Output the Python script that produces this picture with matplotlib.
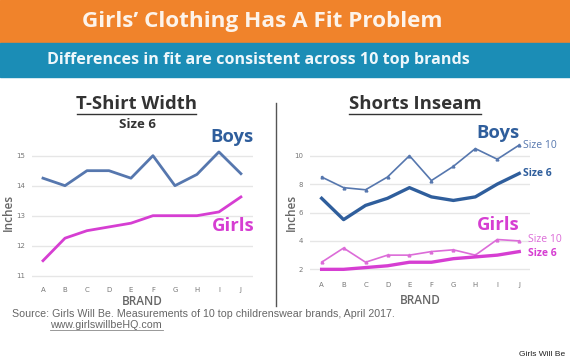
import matplotlib.pyplot as plt
from matplotlib.lines import Line2D
from matplotlib.patches import Rectangle

brands = ["A", "B", "C", "D", "E", "F", "G", "H", "I", "J"]

tshirt_boys = [14.25, 14.0, 14.5, 14.5, 14.25, 15.0, 14.0, 14.375, 15.125, 14.4]
tshirt_girls = [11.5, 12.25, 12.5, 12.625, 12.75, 13.0, 13.0, 13.0, 13.125, 13.625]

shorts_boys_10 = [8.5, 7.75, 7.6, 8.5, 10.0, 8.25, 9.25, 10.5, 9.75, 10.75]
shorts_boys_6 = [7.0, 5.5, 6.5, 7.0, 7.75, 7.1, 6.85, 7.1, 8.0, 8.75]
shorts_girls_10 = [2.5, 3.5, 2.5, 3.0, 3.0, 3.25, 3.375, 3.0, 4.1, 4.0]
shorts_girls_6 = [2.0, 2.0, 2.125, 2.25, 2.5, 2.5, 2.75, 2.875, 3.0, 3.25]

ORANGE = "#F0832B"
TEAL = "#1B8DB6"
BLUE = "#2F5E9C"
BLUE_LIGHT = "#5677AE"
PINK = "#D63ED2"
PINK_LIGHT = "#DC6CD8"
GRID = "#E6E6E6"
TICK = "#777777"

W, H = 570, 361
fig = plt.figure(figsize=(5.7, 3.61), dpi=100)
fig.patch.set_facecolor("white")


def px(x, y):
    return x / W, 1 - y / H


# banners
fig.add_artist(Rectangle((0, 1 - 42 / H), 1, 42 / H, transform=fig.transFigure,
                         color=ORANGE, zorder=0))
fig.add_artist(Rectangle((0, 1 - 77 / H), 1, 34 / H, transform=fig.transFigure,
                         color=TEAL, zorder=0))
fig.text(*px(262, 21), "Girls’ Clothing Has A Fit Problem", family="Open Sans",
         weight="bold", size=16.2, color="#FDF3EA", ha="center", va="center")
fig.text(*px(258, 60), "Differences in fit are consistent across 10 top brands",
         family="Open Sans", weight="bold", size=11.6, color="#EEF7FB",
         ha="center", va="center")


def style_axes(ax, yticks, ylab_xy, xlab_y):
    for s in ax.spines.values():
        s.set_visible(False)
    ax.set_yticks(yticks)
    ax.yaxis.grid(True, color=GRID, lw=1)
    ax.set_axisbelow(True)
    ax.set_xticks(range(len(brands)))
    ax.set_xticklabels(brands)
    ax.tick_params(length=0, labelsize=5, colors=TICK, pad=6)
    ax.tick_params(axis="y", pad=5)
    ax.set_xlabel("BRAND", family="Open Sans", weight="semibold", size=8.5,
                  color="#666666", va="center")
    ax.set_ylabel("Inches", family="Open Sans", weight="semibold", size=8.5,
                  color="#666666", va="center")
    ax.yaxis.set_label_coords(*ylab_xy)
    ax.xaxis.set_label_coords(0.5, xlab_y)


# left chart
ax1 = fig.add_axes([32 / W, 0.228, 221 / W, 0.3657])
x = range(len(brands))
ax1.plot(x, tshirt_boys, color=BLUE_LIGHT, lw=2, solid_joinstyle="round")
ax1.plot(x, tshirt_girls, color=PINK, lw=2, solid_joinstyle="round")
ax1.set_xlim(-0.5, 9.55)
ax1.set_ylim(10.9, 15.3)
style_axes(ax1, [11, 12, 13, 14, 15], (-0.107, 0.505), -0.169)

# right chart
ax2 = fig.add_axes([310 / W, 0.2421, 220 / W, 0.366])
ax2.plot(x, shorts_boys_10, color=BLUE_LIGHT, lw=1.2, marker="^", ms=2)
ax2.plot(x, shorts_boys_6, color=BLUE, lw=2.4, solid_joinstyle="round")
ax2.plot(x, shorts_girls_10, color=PINK_LIGHT, lw=1.2, marker="^", ms=2)
ax2.plot(x, shorts_girls_6, color=PINK, lw=2.4, solid_joinstyle="round")
ax2.set_xlim(-0.53, 9.49)
ax2.set_ylim(1.7, 11.0)
style_axes(ax2, [2, 4, 6, 8, 10], (-0.086, 0.466), -0.2)

# chart titles
for cx, label in [(137, "T-Shirt Width"), (415, "Shorts Inseam")]:
    fig.text(*px(cx, 104), label, family="Open Sans", weight="bold",
             size=13.3, color="#333333", ha="center", va="center")
fig.add_artist(Line2D([77 / W, 196 / W], [1 - 114 / H] * 2, color="#333333", lw=1))
fig.add_artist(Line2D([349 / W, 481 / W], [1 - 114 / H] * 2, color="#333333", lw=1))
fig.text(*px(137, 124), "Size 6", family="Open Sans", weight="bold", size=9.5,
         color="#333333", ha="center", va="center")

# series labels
fig.text(*px(232, 137), "Boys", family="Open Sans", weight="bold", size=13.3,
         color=BLUE, ha="center", va="center")
fig.text(*px(233, 226), "Girls", family="Open Sans", weight="bold", size=13.3,
         color=PINK, ha="center", va="center")
fig.text(*px(498, 133), "Boys", family="Open Sans", weight="bold", size=13.3,
         color=BLUE, ha="center", va="center")
fig.text(*px(498, 225), "Girls", family="Open Sans", weight="bold", size=13.3,
         color=PINK, ha="center", va="center")
fig.text(*px(523, 146), "Size 10", family="Open Sans", size=7.5,
         color=BLUE_LIGHT, ha="left", va="center")
fig.text(*px(523, 173), "Size 6", family="Open Sans", weight="bold", size=7.5,
         color=BLUE, ha="left", va="center")
fig.text(*px(528, 239), "Size 10", family="Open Sans", size=7.5,
         color=PINK_LIGHT, ha="left", va="center")
fig.text(*px(528, 253), "Size 6", family="Open Sans", weight="bold", size=7.5,
         color=PINK, ha="left", va="center")

# divider
fig.add_artist(Line2D([276 / W] * 2, [1 - 103 / H, 1 - 306 / H], color="#555555", lw=1))

# footer
fig.text(*px(12, 314), "Source: Girls Will Be. Measurements of 10 top childrenswear brands, April 2017.",
         family="Liberation Sans", size=7.7, color="#666666", va="center")
fig.text(*px(50, 325), "www.girlswillbeHQ.com", family="Liberation Sans", size=7.7,
         color="#666666", va="center")
fig.add_artist(Line2D([50 / W, 163 / W], [1 - 330 / H] * 2, color="#888888", lw=0.6))
fig.text(*px(565, 354), "Girls Will Be", family="Liberation Sans", size=6,
         color="#222222", ha="right", va="center")

fig.savefig("out.png", dpi=100)
